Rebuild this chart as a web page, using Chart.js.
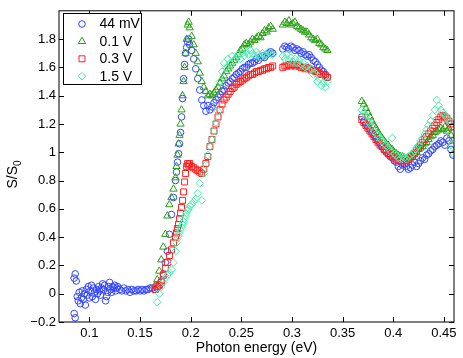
<!DOCTYPE html>
<html><head><meta charset="utf-8">
<script src="https://cdn.jsdelivr.net/npm/chart.js@4.4.1/dist/chart.umd.min.js"></script>
<style>html,body{margin:0;padding:0;background:#fff;overflow:hidden}#wrap{width:463px;height:358px;position:relative}</style>
</head><body><div id="wrap"><canvas id="c" width="463" height="358"></canvas></div>
<script>
const seriesLabels = ['44 mV', '0.1 V', '0.3 V', '1.5 V'];
const xTicks = [0.1, 0.15, 0.2, 0.25, 0.3, 0.35, 0.4, 0.45];
const yTicks = [-0.2, 0, 0.2, 0.4, 0.6, 0.8, 1, 1.2, 1.4, 1.6, 1.8];

// low-energy part, only measured at 44 mV
const energyLow = [0.085,0.086,0.087,0.085,0.086,0.088,0.089,0.090,0.091,0.092,0.093,0.094,0.095,0.096,0.097,0.098,0.099,0.100,0.101,0.102,0.103,0.104,0.105,0.106,0.107,0.108,0.109,0.110,0.111,0.112,0.113,0.114,0.115,0.116,0.117,0.118,0.119,0.120,0.121,0.122,0.123,0.124,0.125,0.126,0.127,0.128,0.130,0.132,0.134,0.136,0.138,0.140,0.142,0.144,0.146,0.148,0.150,0.152,0.154,0.156,0.158,0.160,0.162];
const s44Low = [0.11,0.14,0.09,-0.14,-0.17,-0.02,-0.05,0.01,-0.07,-0.03,0.02,-0.04,0.00,-0.08,0.03,-0.01,0.05,-0.03,0.02,0.06,-0.02,0.04,0.01,-0.04,0.03,0.00,0.05,0.02,-0.01,0.04,0.07,0.03,0.06,-0.05,-0.02,0.01,0.05,0.08,0.03,0.01,0.05,0.04,0.06,0.02,0.04,0.05,0.03,0.02,0.04,0.02,0.03,0.01,0.03,0.02,0.02,0.03,0.02,0.03,0.02,0.03,0.03,0.04,0.04];

// common energy grid (eV)
const energy = [
  0.165,0.167,0.169,0.171,0.173,0.175,0.177,0.179,0.181,0.183,
  0.185,0.186,0.187,0.188,0.189,0.190,0.191,0.192,0.193,0.194,0.195,0.196,0.197,0.198,0.199,
  0.201,0.203,0.205,0.207,0.209,0.211,0.213,0.215,0.217,0.219,
  0.221,0.223,0.225,0.227,0.229,0.231,0.233,0.235,0.237,0.239,
  0.241,0.243,0.245,0.247,0.249,0.251,0.253,0.255,0.257,0.259,
  0.261,0.263,0.265,0.267,0.269,0.271,0.273,0.275,0.277,0.279,
  0.281,
  0.291,0.293,0.295,0.297,0.299,0.301,0.303,0.305,0.307,0.309,
  0.311,0.313,0.315,0.317,0.319,0.321,0.323,0.325,0.327,0.329,
  0.331,0.333,0.335,
  0.369,0.371,0.373,0.375,0.377,0.379,0.381,0.383,0.385,0.387,
  0.389,0.391,0.393,0.395,0.397,0.399,0.401,0.403,0.405,0.407,
  0.409,0.411,0.413,0.415,0.417,0.419,0.421,0.423,0.425,0.427,
  0.429,0.431,0.433,0.435,0.437,0.439,0.441,0.443,0.445,0.447,
  0.449,0.451,0.453,0.455,0.457,0.459
];

const s44 = [
  0.03,0.04,0.06,0.09,0.14,0.22,0.30,0.42,0.56,0.68,
  0.80,0.86,0.93,0.99,1.06,1.14,1.25,1.38,1.52,1.62,1.70,1.74,1.78,1.80,1.76,
  1.72,1.66,1.59,1.52,1.44,1.37,1.33,1.29,1.33,1.30,
  1.32,1.35,1.37,1.39,1.41,1.43,1.44,1.47,1.49,1.50,
  1.52,1.53,1.55,1.56,1.57,1.59,1.60,1.60,1.62,1.63,
  1.63,1.64,1.66,1.65,1.67,1.68,1.67,1.69,1.70,1.71,
  1.70,
  1.73,1.75,1.74,1.73,1.75,1.74,1.72,1.73,1.72,1.70,
  1.71,1.69,1.68,1.69,1.67,1.65,1.64,1.62,1.60,1.58,
  1.57,1.55,1.53,
  1.25,1.22,1.20,1.18,1.16,1.14,1.12,1.10,1.08,1.06,
  1.04,1.02,1.00,0.99,0.97,0.96,0.94,0.93,0.90,0.88,
  0.91,0.92,0.90,0.88,0.89,0.91,0.93,0.90,0.92,0.94,
  0.96,0.95,0.98,0.99,1.01,1.02,1.04,1.05,1.06,1.08,
  1.07,1.05,1.10,1.08,1.02,0.98
];

const s01 = [
  0.06,0.10,0.16,0.24,0.33,0.42,0.55,0.63,0.68,0.74,
  0.82,0.90,0.98,1.06,1.12,1.20,1.30,1.40,1.50,1.60,1.70,1.80,1.90,1.92,1.88,
  1.82,1.76,1.70,1.64,1.56,1.50,1.46,1.43,1.40,1.41,
  1.40,1.42,1.44,1.46,1.49,1.52,1.54,1.57,1.59,1.61,
  1.63,1.65,1.67,1.69,1.72,1.73,1.76,1.77,1.76,1.78,
  1.80,1.79,1.81,1.82,1.81,1.84,1.86,1.85,1.88,1.89,
  1.87,
  1.90,1.92,1.91,1.93,1.90,1.91,1.92,1.89,1.88,1.87,
  1.86,1.85,1.85,1.83,1.81,1.80,1.79,1.80,1.77,1.76,
  1.74,1.73,1.72,
  1.36,1.34,1.31,1.28,1.25,1.22,1.19,1.17,1.14,1.12,
  1.10,1.08,1.06,1.05,1.03,1.02,1.00,0.99,0.98,0.97,
  0.97,0.96,0.95,0.96,0.97,0.98,0.99,1.00,1.02,1.03,
  1.04,1.06,1.07,1.09,1.11,1.12,1.14,1.15,1.16,1.17,
  1.16,1.18,1.15,1.17,1.12,1.08
];

const s03 = [
  0.03,0.05,0.06,0.08,0.13,0.18,0.22,0.27,0.31,0.36,
  0.40,0.43,0.46,0.49,0.53,0.57,0.61,0.66,0.72,0.79,0.85,0.90,0.92,0.91,0.92,
  0.90,0.89,0.88,0.87,0.86,0.85,0.88,0.92,0.97,1.04,
  1.09,1.15,1.20,1.25,1.30,1.34,1.37,1.39,1.41,1.43,
  1.45,1.46,1.48,1.49,1.50,1.51,1.52,1.53,1.54,1.55,
  1.55,1.56,1.57,1.57,1.58,1.58,1.59,1.59,1.60,1.60,
  1.61,
  1.60,1.61,1.61,1.62,1.61,1.62,1.61,1.62,1.61,1.60,
  1.60,1.59,1.60,1.59,1.58,1.58,1.57,1.57,1.56,1.55,
  1.55,1.54,1.53,
  1.23,1.21,1.19,1.17,1.15,1.13,1.11,1.09,1.07,1.05,
  1.04,1.02,1.01,0.99,0.98,0.97,0.96,0.95,0.94,0.94,
  0.93,0.94,0.94,0.95,0.96,0.97,0.99,1.01,1.03,1.05,
  1.07,1.09,1.11,1.13,1.15,1.17,1.19,1.21,1.23,1.25,
  1.26,1.25,1.24,1.22,1.20,1.18
];

const s15 = [
  null,-0.06,0.00,0.05,0.08,0.11,0.13,0.15,0.17,0.22,
  0.30,0.36,0.39,0.41,0.43,0.45,0.47,0.49,0.51,0.53,0.55,0.57,0.59,0.60,0.62,
  0.63,0.65,0.67,0.71,0.78,0.66,0.85,0.91,0.98,1.04,
  1.09,1.15,1.21,1.29,1.50,1.57,1.63,1.60,1.66,1.63,
  1.68,1.65,1.67,1.69,1.66,1.70,1.68,1.71,1.69,1.72,
  1.70,1.68,1.71,1.69,1.67,1.70,1.68,1.69,1.71,1.70,
  1.69,
  1.68,1.66,1.69,1.65,1.67,1.64,1.66,1.63,1.65,1.62,
  1.63,1.60,1.61,1.58,1.59,1.55,1.56,1.50,1.52,1.47,
  1.49,1.46,1.50,
  1.30,1.28,1.26,1.22,1.20,1.18,1.15,1.13,1.12,1.10,
  1.08,1.06,1.05,1.03,1.01,1.10,0.99,0.98,0.96,0.95,
  0.97,0.96,0.95,0.97,0.98,0.99,1.01,1.03,1.05,1.08,
  1.10,1.13,1.16,1.19,1.22,1.26,1.30,1.37,1.33,1.30,
  1.28,1.26,1.24,1.22,1.05,0.99
];

const colors = ['rgb(50,70,255)', 'rgb(40,160,20)', 'rgb(255,30,30)', 'rgb(70,238,175)'];
const styles = ['circle', 'triangle', 'rect', 'rectRot'];
const radii = [3.3, 4.2, 4.2, 3.8];

function pairs(xs, ys) {
  const out = [];
  for (let i = 0; i < xs.length; i++) if (ys[i] !== null) out.push({x: xs[i], y: ys[i]});
  return out;
}

const seriesData = [
  pairs(energyLow, s44Low).concat(pairs(energy, s44)),
  pairs(energy, s01),
  pairs(energy, s03),
  pairs(energy, s15)
];

const FONT = "'Liberation Sans', Arial, Helvetica, sans-serif";

function drawMarker(ctx, style, r, x, y) {
  if (style === 'circle') { ctx.moveTo(x + r, y); ctx.arc(x, y, r, 0, Math.PI * 2); }
  else if (style === 'triangle') {
    ctx.moveTo(x, y - r);
    ctx.lineTo(x + r * Math.sin(2 * Math.PI / 3), y - r * Math.cos(2 * Math.PI / 3));
    ctx.lineTo(x + r * Math.sin(4 * Math.PI / 3), y - r * Math.cos(4 * Math.PI / 3));
    ctx.closePath();
  } else if (style === 'rect') {
    const s = r * Math.SQRT1_2; ctx.rect(x - s, y - s, 2 * s, 2 * s);
  } else {
    ctx.moveTo(x, y - r); ctx.lineTo(x + r, y); ctx.lineTo(x, y + r); ctx.lineTo(x - r, y); ctx.closePath();
  }
}

const framePlugin = {
  id: 'frame',
  afterDatasetsDraw(chart) {
    const {ctx, chartArea: a, scales: {x, y}} = chart;
    ctx.save();
    ctx.strokeStyle = '#000';
    ctx.lineWidth = 1;
    ctx.strokeRect(a.left, a.top, a.right - a.left, a.bottom - a.top);
    const tl = 5;
    ctx.beginPath();
    xTicks.forEach(v => {
      const px = Math.round(x.getPixelForValue(v)) + 0.5;
      ctx.moveTo(px, a.bottom); ctx.lineTo(px, a.bottom - tl);
      ctx.moveTo(px, a.top); ctx.lineTo(px, a.top + tl);
    });
    yTicks.forEach(v => {
      const py = Math.round(y.getPixelForValue(v)) + 0.5;
      ctx.moveTo(a.left, py); ctx.lineTo(a.left + tl, py);
      ctx.moveTo(a.right, py); ctx.lineTo(a.right - tl, py);
    });
    ctx.stroke();

    // y-axis title with subscript
    ctx.fillStyle = '#000';
    ctx.translate(13, (a.top + a.bottom) / 2 + 8);
    ctx.rotate(-Math.PI / 2);
    ctx.font = '14px ' + FONT;
    const w1 = ctx.measureText('S/S').width;
    ctx.font = '10px ' + FONT;
    const w2 = ctx.measureText('0').width;
    ctx.textBaseline = 'middle';
    ctx.textAlign = 'left';
    ctx.font = '14px ' + FONT;
    ctx.fillText('S/S', -(w1 + w2) / 2, 0);
    ctx.font = '10px ' + FONT;
    ctx.fillText('0', -(w1 + w2) / 2 + w1, 5);
    ctx.restore();

    // legend
    ctx.save();
    const lx = a.left + 4.5, ly = 13.5, lw = 78, lh = 71;
    ctx.fillStyle = '#fff';
    ctx.fillRect(lx, ly, lw, lh);
    ctx.strokeStyle = '#000';
    ctx.lineWidth = 1;
    ctx.strokeRect(lx, ly, lw, lh);
    ctx.font = '14px ' + FONT;
    ctx.textBaseline = 'middle';
    ctx.textAlign = 'left';
    chart.data.datasets.forEach((ds, i) => {
      const cy = ly + 10.5 + i * 17.4;
      const cx = lx + 18.5;
      ctx.strokeStyle = ds.borderColor;
      ctx.lineWidth = 1;
      ctx.beginPath();
      drawMarker(ctx, ds.pointStyle, ds.pointRadius, cx, cy);
      ctx.stroke();
      ctx.fillStyle = '#000';
      ctx.fillText(ds.label, lx + 36, cy + 0.5);
    });
    ctx.restore();
  }
};

const datasets = seriesLabels.map((lab, i) => ({
  label: lab,
  data: seriesData[i],
  showLine: false,
  pointStyle: styles[i],
  pointRadius: radii[i],
  pointBorderWidth: 1,
  borderColor: colors[i],
  pointBorderColor: colors[i],
  pointBackgroundColor: 'rgba(0,0,0,0)',
  backgroundColor: 'rgba(0,0,0,0)',
  order: 3 - i
}));

new Chart(document.getElementById('c'), {
  type: 'scatter',
  data: {datasets},
  plugins: [framePlugin],
  options: {
    responsive: false,
    animation: false,
    events: [],
    layout: {padding: {top: 10, right: 9, left: 0, bottom: 0}},
    plugins: {legend: {display: false}, tooltip: {enabled: false}},
    scales: {
      x: {
        type: 'linear', min: 0.07, max: 0.46,
        afterBuildTicks: s => { s.ticks = xTicks.map(v => ({value: v})); },
        afterFit: s => { s.height = 36; },
        ticks: {
          autoSkip: false, maxRotation: 0, padding: 4, color: '#000',
          font: {size: 13, family: FONT},
          callback: v => String(Math.round(v * 100) / 100)
        },
        grid: {display: false, drawTicks: false},
        border: {display: false},
        title: {display: true, text: 'Photon energy (eV)', color: '#000', font: {size: 14, family: FONT}, padding: {top: 0, bottom: 1}}
      },
      y: {
        type: 'linear', min: -0.2, max: 2.0,
        afterBuildTicks: s => { s.ticks = yTicks.map(v => ({value: v})); },
        afterFit: s => { s.width = 59; },
        ticks: {
          autoSkip: false, padding: 3, color: '#000',
          font: {size: 13, family: FONT},
          callback: v => String(Math.round(v * 10) / 10).replace('-', '\u2212')
        },
        grid: {display: false, drawTicks: false},
        border: {display: false},
        title: {display: false}
      }
    }
  }
});
</script>
</body></html>
